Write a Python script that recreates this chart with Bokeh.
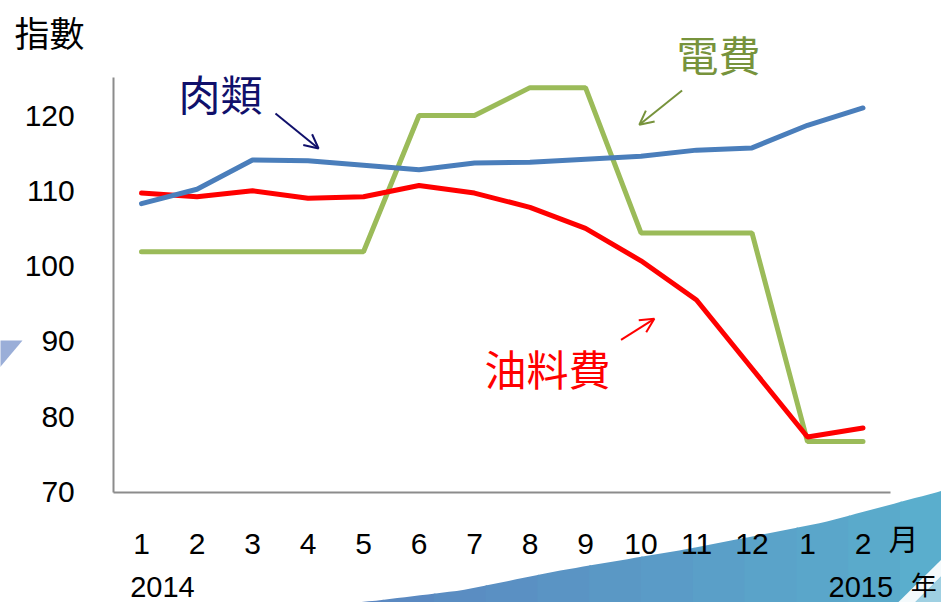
import numpy as np
from bokeh.plotting import figure
from bokeh.models import Range1d, FixedTicker, Label, Arrow, OpenHead, PolyAnnotation, LinearAxis
from bokeh.embed import file_html
from bokeh.resources import INLINE

months = [1, 2, 3, 4, 5, 6, 7, 8, 9, 10, 11, 12, 13, 14]
month_labels = ["1", "2", "3", "4", "5", "6", "7", "8", "9", "10", "11", "12", "1", "2"]
meat = [108.3, 110.2, 114.1, 114.0, 113.4, 112.8, 113.7, 113.8, 114.2, 114.6, 115.4, 115.7, 118.7, 121.0]
fuel = [109.7, 109.2, 110.0, 109.0, 109.2, 110.7, 109.7, 107.8, 105.0, 100.7, 95.5, 86.4, 77.3, 78.5]
power = [101.9, 101.9, 101.9, 101.9, 101.9, 120.0, 120.0, 123.7, 123.7, 104.4, 104.4, 104.4, 76.7, 76.7]
y_ticks = [70, 80, 90, 100, 110, 120]

CJK = "Noto Sans CJK TC"
LAT = "Liberation Sans"

W, H = 941, 602
# frame covers the whole canvas; axes are placed at fixed data locations
p = figure(width=W, height=H, output_backend="svg", toolbar_location=None,
           x_range=Range1d(1 - 141 / 55.5, 1 + (W - 141) / 55.5),
           y_range=Range1d(70 - (H - 491.5) / 7.53, 70 + 491.5 / 7.53),
           min_border=0, x_axis_type=None, y_axis_type=None)
p.outline_line_color = None
p.xgrid.visible = False
p.ygrid.visible = False
p.background_fill_color = "white"
p.border_fill_color = "white"

# decorative background swoosh (bottom right) and triangle (left)
def deco(xs, ys, color):
    p.add_layout(PolyAnnotation(xs=list(xs), ys=list(ys), fill_color=color, fill_alpha=1.0,
                                line_color=None, level="underlay"))

edge_x = [4.4, 5.252, 6.748, 8.55, 10.892, 13.288, 15.6]
edge_y = [55.0, 55.59, 56.92, 59.58, 62.5, 65.95, 70.5]
cuts = np.linspace(4.4, 15.6, 13)
c0, c1 = np.array([0x5a, 0x86, 0xc0]), np.array([0x5a, 0xae, 0xcd])
for i in range(len(cuts) - 1):
    a, b = cuts[i], min(cuts[i + 1] + 0.03, 15.6)
    gx = np.linspace(a, b, 8)
    gy = np.interp(gx, edge_x, edge_y)
    t = i / (len(cuts) - 2)
    c = (c0 + (c1 - c0) * t).astype(int)
    deco(list(gx) + [b, a], list(gy) + [55.0, 55.0], "#%02x%02x%02x" % tuple(c))
deco([14.586, 15.6, 15.6, 14.892], [55.0, 62.4, 60.2, 55.0], "#f4fafc")
deco([14.892, 15.6, 15.6], [55.0, 60.2, 55.0], "#9fd0e2")
deco([-1.6, -1.144, -1.6], [90.12, 90.12, 86.14], "#9aaed8")

xaxis = LinearAxis(ticker=FixedTicker(ticks=months), fixed_location=70, bounds=(0.5, 14.5),
                   major_label_overrides={m: l for m, l in zip(months, month_labels)},
                   major_label_standoff=36)
yaxis = LinearAxis(ticker=FixedTicker(ticks=y_ticks), fixed_location=0.5, bounds=(70, 125),
                   major_label_standoff=33)
for ax in (xaxis, yaxis):
    ax.major_tick_line_color = None
    ax.minor_tick_line_color = None
    ax.axis_line_color = "#8c8c8c"
    ax.axis_line_width = 2
    ax.major_label_text_font = LAT
    ax.major_label_text_font_size = "30px"
    ax.major_label_text_color = "black"
p.add_layout(xaxis, "below")
p.add_layout(yaxis, "left")

p.line(months, power, line_color="#9bbb59", line_width=5, line_cap="round")
p.line(months, fuel, line_color="#ff0000", line_width=5, line_cap="round")
p.line(months, meat, line_color="#4a7ebb", line_width=5, line_cap="round")

def lab(x, y, t, color="black", size="30px", font=CJK, align="left"):
    p.add_layout(Label(x=x, y=y, text=t, text_color=color, text_font_size=size,
                       text_font=font, text_align=align, text_baseline="middle"))

lab(-1.29, 131.2, "指數", size="35px")
lab(1.667, 123.1, "肉類", color="#10106b", size="42px")
lab(10.64, 128.25, "電費", color="#77933c", size="42px")
lab(7.18, 86.5, "油料費", color="#ff0000", size="42px")
lab(14.46, 64.0, "月", size="30px")
lab(1.378, 57.45, "2014", size="29px", font=LAT, align="center")
lab(13.38, 57.45, "2015", size="29px", font=LAT)
lab(15.33, 57.9, "年", size="26px", align="right")

def arrow(x0, y0, x1, y1, color):
    p.add_layout(Arrow(end=OpenHead(size=14, line_color=color, line_width=2),
                       x_start=x0, y_start=y0, x_end=x1, y_end=y1,
                       line_color=color, line_width=2))

arrow(3.414, 120.27, 4.19, 115.62, "#10106b")
arrow(10.74, 123.32, 9.97, 118.77, "#77933c")
arrow(9.64, 90.21, 10.24, 93.0, "#ff0000")

open("out.html", "w").write(file_html(p, INLINE))
